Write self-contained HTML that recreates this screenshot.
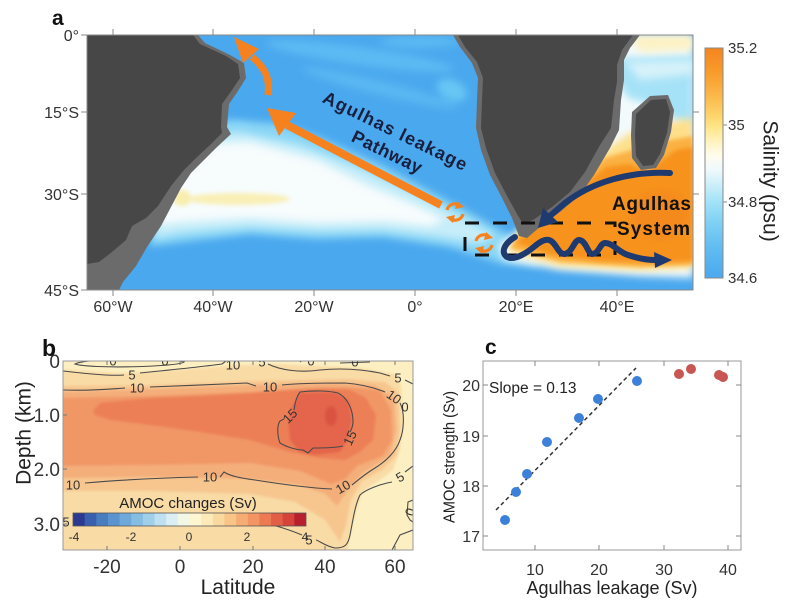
<!DOCTYPE html>
<html><head><meta charset="utf-8"><style>
html,body{margin:0;padding:0;background:#fff;}
svg{display:block;font-family:"Liberation Sans",Arial,sans-serif;}
</style></head><body>
<svg width="799" height="606" viewBox="0 0 799 606" xmlns="http://www.w3.org/2000/svg">
<defs>
<clipPath id="ca"><rect x="87" y="35" width="606" height="255"/></clipPath>
<clipPath id="cb"><rect x="63" y="361" width="350" height="189"/></clipPath>
<filter id="bl" x="-30%" y="-30%" width="160%" height="160%"><feGaussianBlur stdDeviation="4"/></filter>
<filter id="bl2" x="-30%" y="-30%" width="160%" height="160%"><feGaussianBlur stdDeviation="2"/></filter>
<filter id="bl3" x="-30%" y="-30%" width="160%" height="160%"><feGaussianBlur stdDeviation="1.2"/></filter>
<linearGradient id="sal" x1="0" y1="0" x2="0" y2="1">
<stop offset="0" stop-color="#f5851f"/>
<stop offset="0.1" stop-color="#f89a2a"/>
<stop offset="0.2" stop-color="#fbb547"/>
<stop offset="0.29" stop-color="#fdd36a"/>
<stop offset="0.34" stop-color="#fee585"/>
<stop offset="0.41" stop-color="#fff3c2"/>
<stop offset="0.47" stop-color="#fffcee"/>
<stop offset="0.53" stop-color="#eef9fc"/>
<stop offset="0.6" stop-color="#c9eef9"/>
<stop offset="0.67" stop-color="#a2e2f7"/>
<stop offset="0.76" stop-color="#7fd0f4"/>
<stop offset="0.87" stop-color="#60bcf1"/>
<stop offset="1" stop-color="#4aa8ee"/>
</linearGradient>
</defs>
<rect width="799" height="606" fill="#fff"/>

<!-- ============ PANEL A ============ -->
<g clip-path="url(#ca)">
  <rect x="87" y="35" width="606" height="255" fill="#4aa8ee"/>
  <g filter="url(#bl)">
    <ellipse cx="360" cy="56" rx="95" ry="9" transform="rotate(8 360 56)" fill="#5cbaf3"/>
    <ellipse cx="380" cy="88" rx="80" ry="7" transform="rotate(14 380 88)" fill="#5ab7f2"/>
    <ellipse cx="452" cy="90" rx="16" ry="10" transform="rotate(25 452 90)" fill="#68c6f4"/>
    <ellipse cx="420" cy="42" rx="40" ry="6" fill="#5cb9f3"/>
    <ellipse cx="238" cy="130" rx="14" ry="6" fill="#74cdf5"/>
  </g>
  <polygon filter="url(#bl)" fill="#8ad6f6" points="160,128 230,120 280,124 320,138 383,166 433,193 470,213 500,230 530,248 540,266 500,263 450,247 383,237 317,239 250,234 190,241 150,246"/>
  <polygon filter="url(#bl)" fill="#c6edf9" points="165,136 240,132 300,145 360,168 420,196 460,216 495,236 480,244 440,237 383,230 317,231 250,227 180,233 155,238"/>
  <polygon filter="url(#bl)" fill="#f7fcfd" points="170,145 250,142 317,160 367,185 417,206 445,220 430,226 383,221 317,223 250,218 180,222 160,225"/>
  <ellipse filter="url(#bl2)" cx="238" cy="199" rx="52" ry="6" fill="#f9efb6"/>
  <ellipse filter="url(#bl2)" cx="182" cy="198" rx="9" ry="8" fill="#f8eeae"/>
  <polygon filter="url(#bl)" fill="#f3fafc" points="600,35 693,35 693,278 640,276 560,270 505,260 498,245 520,230 580,175 610,120 620,35"/>
  <polygon filter="url(#bl)" fill="#a6e2f7" points="615,58 693,55 693,126 672,118 650,104 628,98 616,80"/>
  <polygon filter="url(#bl)" fill="#d6f2fa" points="625,62 693,60 693,74 640,80"/>
  <polygon filter="url(#bl)" fill="#fdf2c4" points="628,35 693,35 693,50 640,52"/>
  <polygon filter="url(#bl)" fill="#fedf8a" points="585,168 608,148 632,132 660,124 693,118 693,268 640,270 560,266 508,252 518,232"/>
  <polygon filter="url(#bl2)" fill="#fbb143" points="583,175 605,158 632,150 660,142 693,136 693,265 640,267 560,262 510,248 520,233"/>
  <polygon filter="url(#bl2)" fill="#f7931f" points="587,182 606,167 630,164 648,172 662,160 676,150 693,147 693,261 650,263 600,261 552,255 516,243 526,233 546,219 566,202"/>
  <ellipse filter="url(#bl)" cx="660" cy="215" rx="30" ry="25" fill="#f58a1c"/>
  <polygon fill="#6b6b6b" points="87,35 198,35 205,43 230,55 244,63 246,78 238,91 229,104 227,127 231,134 216,148 203,161 191,173 181,188 171,207 161,226 147,247 136,266 123,282 119,290 87,290"/>
  <polygon fill="#474747" points="87,35 193,35 200,44 226,56 238,64 240,78 232,90 222,104 221,127 222,133 210,145 196,158 184,170 171,186 158,206 146,218 132,226 126,240 112,252 99,262 87,264"/>
  <polygon fill="#6b6b6b" points="453,35 640,35 630,48 624,60 624,80 621,100 619,130 610,148 594,175 580,195 560,212 540,227 527,238 519,236 512,218 501,196 490,175 481,150 476,128 477,100 478,78 472,63 460,47"/>
  <polygon fill="#474747" points="458,35 633,35 622,50 617,65 617,82 614,100 611,128 600,145 585,172 570,192 552,207 533,220 523,224 517,214 506,194 495,173 486,148 481,128 482,100 483,78 477,62 465,47"/>
  <polygon fill="#6b6b6b" points="632,112 650,96 668,95 674,110 671,132 664,155 656,168 641,170 632,158 631,135"/>
  <polygon fill="#474747" points="636,114 651,100 666,99 670,112 667,133 660,154 653,165 643,166 636,156 635,135"/>
  <rect x="465" y="223" width="150" height="32" fill="none" stroke="#111" stroke-width="3" stroke-dasharray="14,14"/>
  <g fill="none" stroke="#f5821f" stroke-width="8">
    <line x1="441" y1="205" x2="287" y2="125"/>
    <path d="M268,95 C270,80 266,68 252,57" stroke-width="7"/>
  </g>
  <polygon fill="#f5821f" points="267,108 296,113 279,136"/>
  <polygon fill="#f5821f" points="234,37 259,49 243,63"/>
  <g fill="none" stroke="#f5821f" stroke-width="3.2">
    <path d="M447,210 A8 8 0 0 1 459,205"/>
    <path d="M463,214 A8 8 0 0 1 451,219"/>
    <path d="M476,241 A8 8 0 0 1 488,236"/>
    <path d="M492,245 A8 8 0 0 1 480,250"/>
  </g>
  <g fill="#f5821f">
    <polygon points="457,201 464,207 455,209"/>
    <polygon points="453,223 446,217 455,215"/>
    <polygon points="486,232 493,238 484,240"/>
    <polygon points="482,254 475,248 484,246"/>
  </g>
  <g fill="none" stroke="#1f3a6e" stroke-width="6" stroke-linecap="round">
    <path d="M670,173 C630,171 592,182 565,203 L551,215"/>
    <path d="M515,237 C505,243 500,252 507,257 C515,261 528,252 535,246 C541,241 545,239 549,240 C556,242 558,254 564,254 C572,254 574,240 579,240 C586,240 588,254 592,254 C599,254 600,243 605,243 C613,243 618,252 628,255 C640,259 648,260 656,260"/>
  </g>
  <polygon fill="#1f3a6e" points="538,228 543,208 558,222"/>
  <polygon fill="#1f3a6e" points="672,260 654,252 655,268"/>
  <g font-weight="bold" fill="#1a1f3d" font-size="18">
    <text transform="translate(395,131) rotate(26)" text-anchor="middle" dominant-baseline="central" textLength="158">Agulhas leakage</text>
    <text transform="translate(387,152) rotate(26)" text-anchor="middle" dominant-baseline="central" textLength="76">Pathway</text>
  </g>
  <g font-weight="bold" fill="#111" font-size="19">
    <text x="612" y="210" textLength="79">Agulhas</text>
    <text x="617" y="235" textLength="73">System</text>
  </g>
</g>
<rect x="87" y="35" width="606" height="255" fill="none" stroke="#888" stroke-width="1"/>
<g stroke="#888" stroke-width="1">
  <line x1="113" y1="29" x2="113" y2="35"/><line x1="213" y1="29" x2="213" y2="35"/><line x1="314" y1="29" x2="314" y2="35"/><line x1="415" y1="29" x2="415" y2="35"/><line x1="516" y1="29" x2="516" y2="35"/><line x1="617" y1="29" x2="617" y2="35"/>
  <line x1="113" y1="290" x2="113" y2="296"/><line x1="213" y1="290" x2="213" y2="296"/><line x1="314" y1="290" x2="314" y2="296"/><line x1="415" y1="290" x2="415" y2="296"/><line x1="516" y1="290" x2="516" y2="296"/><line x1="617" y1="290" x2="617" y2="296"/>
  <line x1="81" y1="35" x2="87" y2="35"/><line x1="81" y1="112" x2="87" y2="112"/><line x1="81" y1="194" x2="87" y2="194"/><line x1="81" y1="290" x2="87" y2="290"/>
  <line x1="693" y1="112" x2="699" y2="112"/><line x1="693" y1="194" x2="699" y2="194"/>
</g>
<g font-size="16" fill="#333">
  <text x="79" y="41" text-anchor="end">0°</text>
  <text x="79" y="118" text-anchor="end">15°S</text>
  <text x="79" y="200" text-anchor="end">30°S</text>
  <text x="79" y="296" text-anchor="end">45°S</text>
  <g text-anchor="middle">
    <text x="113" y="312">60°W</text><text x="213" y="312">40°W</text><text x="314" y="312">20°W</text>
    <text x="415" y="312">0°</text><text x="516" y="312">20°E</text><text x="617" y="312">40°E</text>
  </g>
</g>
<text x="52" y="25" font-size="21" font-weight="bold" fill="#111">a</text>
<rect x="705" y="48" width="18" height="230" fill="url(#sal)" stroke="#888" stroke-width="1"/>
<g stroke="#888"><line x1="723" y1="125" x2="727" y2="125"/><line x1="723" y1="202" x2="727" y2="202"/></g>
<g font-size="15" fill="#333">
  <text x="728" y="53">35.2</text>
  <text x="728" y="130">35</text>
  <text x="728" y="207">34.8</text>
  <text x="728" y="283">34.6</text>
</g>
<text transform="translate(770,181) rotate(90)" text-anchor="middle" dominant-baseline="central" font-size="21" fill="#222">Salinity (psu)</text>

<!-- ============ PANEL B ============ -->
<g clip-path="url(#cb)">
  <rect x="63" y="361" width="350" height="189" fill="#fcf0c3"/>
  <g filter="url(#bl3)">
  <polygon fill="#f9dba6" points="55,369 120,373 160,371 200,368 240,365 280,364 320,366 360,368 395,374 401,385 403,420 400,450 393,470 380,480 362,492 355,515 350,535 346,560 55,560"/>
  <polygon fill="#f7c68f" points="55,386 150,385 250,381 300,380 350,379 385,382 398,392 400,430 396,456 382,470 362,481 351,500 346,525 340,542 325,520 295,502 250,494 150,491 55,491"/>
  <polygon fill="#f4ae7a" points="55,392 150,389 250,385 330,383 374,385 394,397 396,430 390,456 364,472 348,490 337,506 325,494 300,485 250,479 150,477 55,478"/>
  <polygon fill="#f19766" points="55,398 150,396 250,392 300,389 345,387 380,390 391,410 392,440 383,456 357,466 345,479 331,484 300,471 250,463 150,465 55,466"/>
  <polygon fill="#ec7f56" points="93,411 100,403 150,398 200,396 250,393 285,390 320,388 350,390 366,398 376,415 373,440 360,452 345,460 320,458 290,452 250,440 200,432 150,425 110,420 95,415"/>
  <polygon fill="#e4654b" points="300,393 335,392 348,400 352,420 348,440 340,452 315,455 300,452 290,440 288,420 293,405"/>
  <ellipse cx="331" cy="416" rx="6" ry="10" fill="#da5242"/>
  </g>
  <g fill="none" stroke="#4a4a4a" stroke-width="1.1">
    <path d="M75,364 C85,358 170,357 184,362 C178,367 90,369 75,364 Z"/>
    <path d="M63,371 C90,374 110,376 124,375"/>
    <path d="M140,373 C170,370 200,367 222,364 L226,361"/>
    <path d="M268,364 C280,370 300,373 320,370 C340,368 360,369 380,373 L390,376"/>
    <path d="M405,380 L413,384"/>
    <path d="M300,362 C305,358 320,358 325,361"/>
    <path d="M340,363 L370,362"/>
    <path d="M63,390 C90,391 110,389 125,388"/>
    <path d="M150,387 C180,386 220,384 247,383 L256,386"/>
    <path d="M282,385 C300,383 330,383 345,383 C360,384 375,388 385,392"/>
    <path d="M400,403 C405,412 404,430 400,440 C396,452 385,462 375,468 C365,474 358,480 352,485"/>
    <path d="M332,489 C310,488 280,484 255,480 C240,478 230,476 224,472 L220,477"/>
    <path d="M198,477 C160,478 120,480 85,483"/>
    <path d="M300,392 C315,390 330,391 338,393 C348,398 353,410 353,422 C353,427 351,430 350,432"/>
    <path d="M343,446 C335,448 320,448 313,448 L308,453 L303,450 C295,450 285,446 280,443 C277,435 277,425 280,421 L284,419"/>
    <path d="M294,410 C295,402 297,396 300,392"/>
    <path d="M413,466 L405,472"/>
    <path d="M392,482 C380,484 365,490 360,495 C355,505 353,520 350,535 C348,545 345,548 335,548 C325,546 318,540 316,540"/>
    <path d="M302,535 C290,530 280,527 273,525"/>
    <path d="M413,500 L408,502 L407,515 L410,520 L413,522"/>
    <path d="M413,530 L400,535 L392,550"/>
  </g>
  <g font-size="13" fill="#333" text-anchor="middle" dominant-baseline="central">
    <text x="113" y="361">0</text>
    <text x="165" y="361">0</text>
    <text x="132" y="375">5</text>
    <text x="233" y="365">10</text>
    <text x="262" y="362">5</text>
    <text x="311" y="361">0</text>
    <text x="355" y="362">0</text>
    <text x="398" y="378">5</text>
    <text x="137" y="388">10</text>
    <text x="270" y="387">10</text>
    <text transform="translate(394,397) rotate(35)">10</text>
    <text transform="translate(343,487) rotate(-30)">10</text>
    <text x="210" y="477">10</text>
    <text x="73" y="485">10</text>
    <text transform="translate(350,438) rotate(-65)">15</text>
    <text transform="translate(290,416) rotate(-45)">15</text>
    <text x="309" y="540">5</text>
    <text transform="translate(400,477) rotate(-30)">5</text>
    <text transform="translate(410,512) rotate(-70)">0</text>
    <text x="405" y="407">0</text>
    <text x="66" y="522">5</text>
  </g>
  <text x="188" y="508" text-anchor="middle" font-size="15" fill="#222">AMOC changes (Sv)</text>
  <g stroke="none">
    <rect x="73" y="513" width="12" height="13" fill="#2b3990"/>
    <rect x="84.65" y="513" width="12" height="13" fill="#3a5fae"/>
    <rect x="96.3" y="513" width="12" height="13" fill="#4a7cc0"/>
    <rect x="107.95" y="513" width="12" height="13" fill="#5b93cf"/>
    <rect x="119.6" y="513" width="12" height="13" fill="#6fa9da"/>
    <rect x="131.25" y="513" width="12" height="13" fill="#86bde3"/>
    <rect x="142.9" y="513" width="12" height="13" fill="#a0cfea"/>
    <rect x="154.55" y="513" width="12" height="13" fill="#bfe0f0"/>
    <rect x="166.2" y="513" width="12" height="13" fill="#dbeef3"/>
    <rect x="177.85" y="513" width="12" height="13" fill="#f2f7e6"/>
    <rect x="189.5" y="513" width="12" height="13" fill="#fdf6d0"/>
    <rect x="201.15" y="513" width="12" height="13" fill="#fcebb8"/>
    <rect x="212.8" y="513" width="12" height="13" fill="#fad9a0"/>
    <rect x="224.45" y="513" width="12" height="13" fill="#f8c487"/>
    <rect x="236.1" y="513" width="12" height="13" fill="#f5ad73"/>
    <rect x="247.75" y="513" width="12" height="13" fill="#f29562"/>
    <rect x="259.4" y="513" width="12" height="13" fill="#ec7a52"/>
    <rect x="271.05" y="513" width="12" height="13" fill="#e25f45"/>
    <rect x="282.7" y="513" width="12" height="13" fill="#d5433a"/>
    <rect x="294.35" y="513" width="11.65" height="13" fill="#b81f2f"/>
  </g>
  <rect x="73" y="513" width="233" height="13" fill="none" stroke="#555" stroke-width="0.8"/>
  <g font-size="12" fill="#333" text-anchor="middle">
    <text x="74" y="541">-4</text><text x="131" y="541">-2</text><text x="189" y="541">0</text><text x="247" y="541">2</text><text x="305" y="541">4</text>
  </g>
</g>
<rect x="63" y="361" width="350" height="189" fill="none" stroke="#999" stroke-width="1"/>
<g stroke="#777" stroke-width="1">
  <line x1="107" y1="550" x2="107" y2="546"/><line x1="180" y1="550" x2="180" y2="546"/><line x1="253" y1="550" x2="253" y2="546"/><line x1="325" y1="550" x2="325" y2="546"/><line x1="395" y1="550" x2="395" y2="546"/>
  <line x1="107" y1="361" x2="107" y2="365"/><line x1="180" y1="361" x2="180" y2="365"/><line x1="253" y1="361" x2="253" y2="365"/><line x1="325" y1="361" x2="325" y2="365"/><line x1="395" y1="361" x2="395" y2="365"/>
  <line x1="63" y1="415" x2="67" y2="415"/><line x1="63" y1="469" x2="67" y2="469"/><line x1="63" y1="524" x2="67" y2="524"/>
</g>
<g font-size="19" fill="#333">
  <g text-anchor="end">
    <text x="60" y="368">0</text><text x="60" y="422">1.0</text><text x="60" y="476">2.0</text><text x="60" y="531">3.0</text>
  </g>
  <g text-anchor="middle">
    <text x="107" y="573">-20</text><text x="180" y="573">0</text><text x="253" y="573">20</text><text x="325" y="573">40</text><text x="395" y="573">60</text>
  </g>
</g>
<text transform="translate(24,433) rotate(-90)" text-anchor="middle" dominant-baseline="central" font-size="21" fill="#222">Depth (km)</text>
<text x="238" y="594" text-anchor="middle" font-size="21" fill="#222">Latitude</text>
<text x="42" y="356" font-size="23" font-weight="bold" fill="#111">b</text>

<!-- ============ PANEL C ============ -->
<rect x="483" y="361" width="258" height="189" fill="#fff" stroke="#999" stroke-width="1"/>
<g stroke="#888" stroke-width="1">
  <line x1="535" y1="550" x2="535" y2="545"/><line x1="599" y1="550" x2="599" y2="545"/><line x1="664" y1="550" x2="664" y2="545"/><line x1="728" y1="550" x2="728" y2="545"/>
  <line x1="535" y1="361" x2="535" y2="366"/><line x1="599" y1="361" x2="599" y2="366"/><line x1="664" y1="361" x2="664" y2="366"/><line x1="728" y1="361" x2="728" y2="366"/>
  <line x1="483" y1="385" x2="488" y2="385"/><line x1="483" y1="436" x2="488" y2="436"/><line x1="483" y1="486" x2="488" y2="486"/><line x1="483" y1="536" x2="488" y2="536"/>
  <line x1="741" y1="385" x2="736" y2="385"/><line x1="741" y1="436" x2="736" y2="436"/><line x1="741" y1="486" x2="736" y2="486"/><line x1="741" y1="536" x2="736" y2="536"/>
</g>
<line x1="496" y1="510" x2="636" y2="368" stroke="#333" stroke-width="1.5" stroke-dasharray="4,3"/>
<g fill="#3d80da">
  <circle cx="505" cy="520" r="5"/><circle cx="516" cy="492" r="5"/><circle cx="527" cy="474" r="5"/><circle cx="547" cy="442" r="5"/><circle cx="579" cy="418" r="5"/><circle cx="598" cy="399" r="5"/><circle cx="637" cy="381" r="5"/>
</g>
<g fill="#c85652">
  <circle cx="679" cy="374" r="5"/><circle cx="691" cy="369" r="5"/><circle cx="719" cy="375" r="5"/><circle cx="723" cy="377" r="5"/>
</g>
<text x="489" y="393" font-size="15.5" fill="#222">Slope = 0.13</text>
<g font-size="16" fill="#333">
  <g text-anchor="end">
    <text x="480" y="391">20</text><text x="480" y="442">19</text><text x="480" y="492">18</text><text x="480" y="542">17</text>
  </g>
  <g text-anchor="middle">
    <text x="535" y="575">10</text><text x="599" y="575">20</text><text x="664" y="575">30</text><text x="728" y="575">40</text>
  </g>
</g>
<text transform="translate(450,457) rotate(-90)" text-anchor="middle" dominant-baseline="central" font-size="15.5" fill="#222" textLength="132" lengthAdjust="spacingAndGlyphs">AMOC strength (Sv)</text>
<text x="612" y="594" text-anchor="middle" font-size="18" fill="#222">Agulhas leakage (Sv)</text>
<text x="485" y="354" font-size="21" font-weight="bold" fill="#111">c</text>
</svg>
</body></html>
